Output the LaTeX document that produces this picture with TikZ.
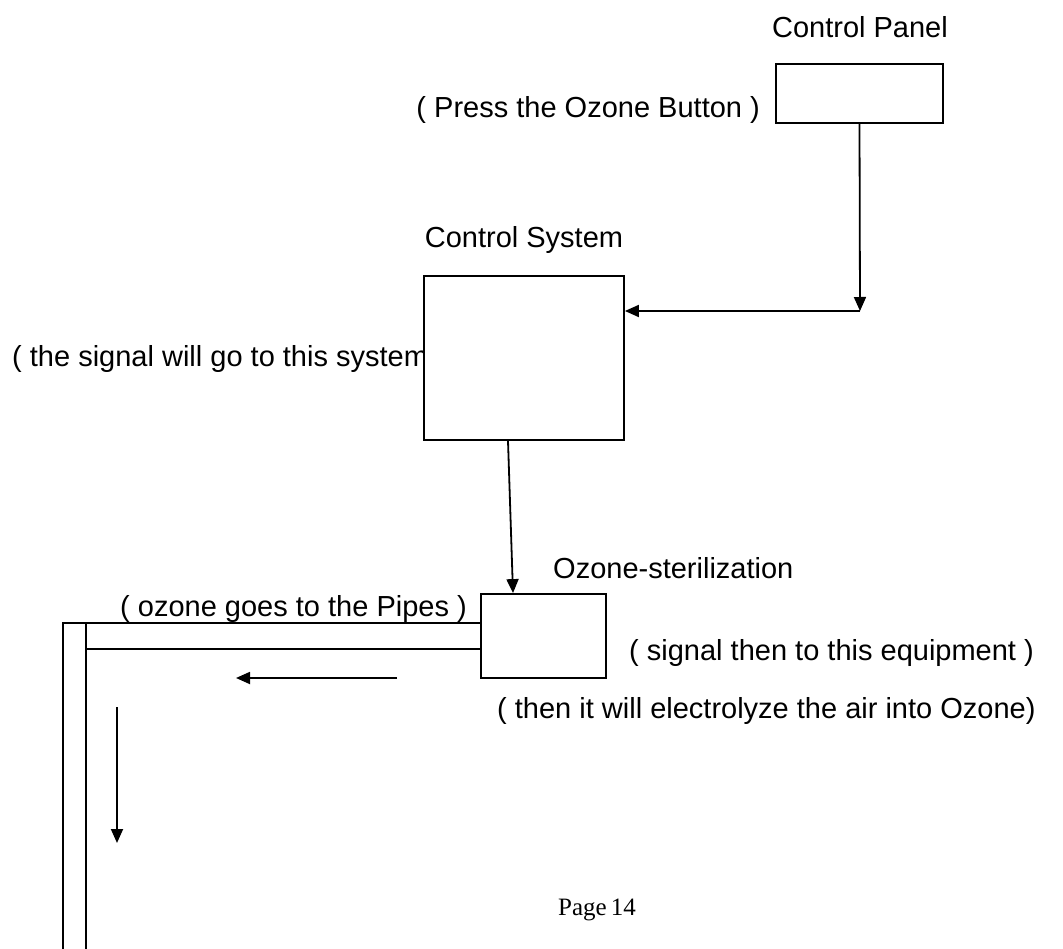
\documentclass[tikz,border=0pt]{standalone}
\usepackage{fontspec}
\setmainfont{Liberation Sans}
\newfontfamily\pagefont{Liberation Serif}
\usetikzlibrary{arrows.meta}
\tikzset{
  box/.style={draw, fill=white, line width=1.8pt, inner sep=0pt},
  lbl/.style={font=\fontsize{29}{34}\selectfont, inner sep=0pt},
  arr/.style={line width=1.8pt, -{Triangle[length=14pt,width=12pt]}},
  pipe/.style={line width=1.8pt}
}
\begin{document}
\begin{tikzpicture}[x=1pt,y=-1pt]
\useasboundingbox (0,0) rectangle (1063,949);
% labels
\node[lbl, anchor=base] (cptxt) at (860,38) {Control Panel};
\node[lbl, anchor=base east] (presstxt) at (760,118) {( Press the Ozone Button )};
\node[lbl, anchor=base] (cstxt) at (524,248) {Control System};
\node[lbl, anchor=base west] (sigtxt) at (12,367) {( the signal will go to this system )};
\node[lbl, anchor=base west] (oztxt) at (553,578) {Ozone-sterilization};
\node[lbl, anchor=base west] (pipetxt) at (120,616) {( ozone goes to the Pipes )};
\node[lbl, anchor=base west] (eqtxt) at (629,660) {( signal then to this equipment )};
\node[lbl, anchor=base west] (eltxt) at (497,718) {( then it will electrolyze the air into Ozone)};
\node[font=\pagefont\fontsize{25}{30}\selectfont, inner sep=0pt, anchor=base] (page) at (597,915) {Page\,14};
% boxes
\node[box, minimum width=167pt, minimum height=59pt] (cp) at (859.5,93.5) {};
\node[box, minimum width=200pt, minimum height=164pt] (cs) at (524,358) {};
\node[box, minimum width=125pt, minimum height=84pt] (oz) at (543.5,636) {};
% connectors
\coordinate (corner) at (860,311);
\draw[arr] (cp.south) -- (corner);
\draw[arr] (corner) -- (cs.east |- corner);
\draw[arr] ([xshift=-16pt]cs.south) -- ([xshift=-30.5pt]oz.north);
% pipes
\coordinate (p1) at (63,949);
\coordinate (p2) at (86,949);
\draw[pipe] (p1) -- (63,623) -- (oz.west |- 0,623);
\draw[pipe] (p2) -- (86,623);
\draw[pipe] (86,649) -- (oz.west |- 0,649);
% flow arrows
\coordinate (f1) at (397,678);
\coordinate (f2) at (236,678);
\draw[arr] (f1) -- (f2);
\coordinate (f3) at (117,707);
\coordinate (f4) at (117,843);
\draw[arr] (f3) -- (f4);
\end{tikzpicture}
\end{document}
